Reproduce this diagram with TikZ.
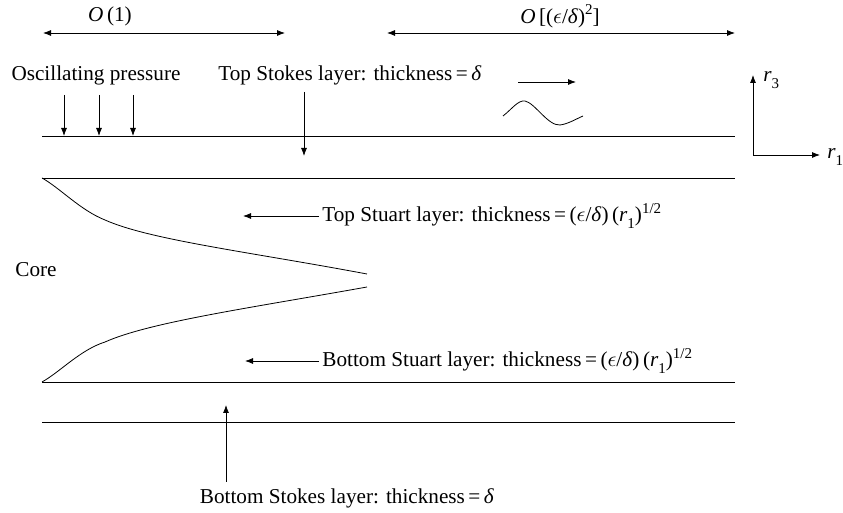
\documentclass[tikz,border=0pt]{standalone}
\usepackage{fontspec}
\setmainfont{Liberation Serif}
\usetikzlibrary{arrows.meta}
\def\sub#1{\raisebox{-0.7ex}{\fontsize{7.5}{8}\selectfont #1}}
\def\supr#1{\raisebox{0.9ex}{\fontsize{7.5}{8}\selectfont #1}}
\def\eps{$\epsilon$}
\def\dlt{\textit{δ}}
\tikzset{
	lbl/.style={inner sep=0pt, font=\fontsize{10.6}{12}\selectfont},
	arr/.style={-{Latex[length=4pt,width=3pt]}, line width=0.4pt},
	darr/.style={{Latex[length=4pt,width=3pt]}-{Latex[length=4pt,width=3pt]}, line width=0.4pt},
	wall/.style={line width=0.45pt}
}

\begin{document}
\begin{tikzpicture}[x=0.5pt, y=-0.5pt]
			%%%%% START %%%%%
			\useasboundingbox (0, 0) rectangle (843, 513);
			
			% order-of-magnitude ranges
			\node[lbl] (oone) at (110, 16) {\textit{O}\,(1)};
			\draw[darr] (43, 33) -- (285, 33);
			\node[lbl] (oeps) at (560, 16) {\textit{O}\,[(\eps/\dlt)\supr{2}]};
			\draw[darr] (387, 33) -- (735, 33);
			
			% top labels
			\node[lbl] (osc) at (96, 75) {Oscillating pressure};
			\node[lbl, anchor=west] (tstokes) at (218, 75) {Top Stokes layer: thickness\,=\,\dlt};
			
			\foreach \px in {64, 99, 133}
				\draw[arr] (\px, 95) -- (\px, 136);
			\draw[arr] (304, 92) -- (304, 156);
			
			% walls
			\draw[wall] (42, 136) -- (735, 136);
			\draw[wall] (42, 178) -- (735, 178);
			\draw[wall] (42, 382) -- (735, 382);
			\draw[wall] (42, 422) -- (735, 422);
			
			% travelling wave
			\draw[arr] (518, 82) -- (576, 82);
			\draw[line width=0.4pt] (503, 116) .. controls (512, 109) and (518, 100) .. (525, 101)
				.. controls (535, 103) and (548, 126) .. (560, 125) .. controls (568, 124) and (576, 119) .. (583, 116);
			
			% axes
			\coordinate (org) at (753, 155);
			\draw[arr] (org) -- (753, 75);
			\draw[arr] (org) -- (820, 155);
			\node[lbl, anchor=west] (rthree) at (763, 80) {\textit{r}\sub{3}};
			\node[lbl, anchor=west] (rone) at (827, 157) {\textit{r}\sub{1}};
			
			% Stuart layers
			\draw[line width=0.4pt] (42, 178) .. controls (60, 188) and (80, 210) .. (105, 220)
				.. controls (150, 240) and (250, 252) .. (367, 274);
			\draw[line width=0.4pt] (42, 382) .. controls (60, 372) and (80, 350) .. (105, 342)
				.. controls (150, 322) and (250, 308) .. (367, 287);
			\node[lbl, anchor=west] (tstuart) at (322, 216) {Top Stuart layer: thickness\,=\,(\eps/\dlt)\,(\textit{r}\sub{1})\supr{1/2}};
			\draw[arr] (tstuart.west) ++(-3, 0) -- (243, 216);
			\node[lbl, anchor=west] (bstuart) at (322, 361) {Bottom Stuart layer: thickness\,=\,(\eps/\dlt)\,(\textit{r}\sub{1})\supr{1/2}};
			\draw[arr] (bstuart.west) ++(-3, 0) -- (245, 361);
			
			\node[lbl, anchor=west] (core) at (15, 270) {Core};
			
			% bottom Stokes layer
			\node[lbl] (bstokes) at (347, 498) {Bottom Stokes layer: thickness\,=\,\dlt};
			\draw[arr] (226, 482) -- (226, 405);
			
			%%%%% END %%%%%
		\end{tikzpicture}
\end{document}
